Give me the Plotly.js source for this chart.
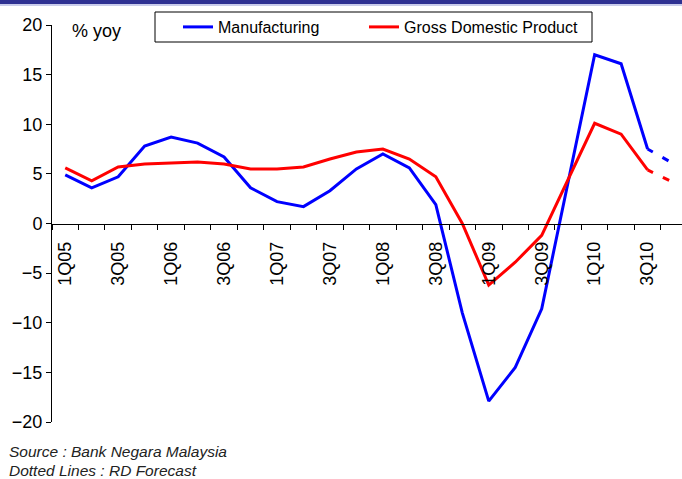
<!DOCTYPE html>
<html><head><meta charset="utf-8">
<script src="https://cdn.plot.ly/plotly-3.0.1.min.js"></script>
<style>html,body{margin:0;padding:0;background:#fff;}#chart{width:682px;height:479px;}</style>
</head><body><div id="chart"></div>
<script>
const quarters = ['1Q05','2Q05','3Q05','4Q05','1Q06','2Q06','3Q06','4Q06','1Q07','2Q07','3Q07','4Q07',
                  '1Q08','2Q08','3Q08','4Q08','1Q09','2Q09','3Q09','4Q09','1Q10','2Q10','3Q10','4Q10'];
const manufacturing = [4.9,3.6,4.7,7.8,8.7,8.1,6.7,3.6,2.2,1.7,3.3,5.5,7.0,5.6,1.9,-9.0,-17.9,-14.5,-8.6,4.3,17.0,16.1,7.5];
const gdp = [5.6,4.3,5.7,6.0,6.1,6.2,6.0,5.5,5.5,5.7,6.5,7.2,7.5,6.5,4.7,0.0,-6.2,-3.9,-1.2,4.5,10.1,9.0,5.4];
const manufacturingForecast = [7.5,6.0];   // 3Q10 -> 4Q10
const gdpForecast = [5.4,4.1];             // 3Q10 -> 4Q10
const yTicks = [-20,-15,-10,-5,0,5,10,15,20];

const idx = quarters.map((q,i)=>i);
const actualX = idx.slice(0, manufacturing.length);
const fcX = idx.slice(manufacturing.length-1);
const labelIdx = idx.filter(i=>i%2===0);

const font = 'Liberation Sans, Arial, sans-serif';
const W = 630, H = 397, L = 52, T = 25;
const px = v => (v - L) / W;           // pixel x -> paper
const py = v => (T + H - v) / H;       // pixel y -> paper

const traces = [
  {x: actualX, y: manufacturing, name:'Manufacturing', mode:'lines', line:{color:'#0000FF', width:3}, legend:'legend'},
  {x: actualX, y: gdp, name:'Gross Domestic Product', mode:'lines', line:{color:'#FF0000', width:3}, legend:'legend2'},
  {x: fcX, y: manufacturingForecast, mode:'lines', showlegend:false, line:{color:'#0000FF', width:3, dash:'6px,11px,7px,30px'}},
  {x: fcX, y: gdpForecast, mode:'lines', showlegend:false, line:{color:'#FF0000', width:3, dash:'6px,11px,7px,30px'}}
];
const legendBase = {orientation:'h', xanchor:'left', y:py(27), yanchor:'middle',
          borderwidth:0, bgcolor:'rgba(0,0,0,0)', font:{size:16, family:font}};
const layout = {
  width:682, height:479,
  margin:{l:L, r:0, t:T, b:57},
  paper_bgcolor:'#fff', plot_bgcolor:'rgba(0,0,0,0)',
  font:{family:font, color:'#000'},
  showlegend:true,
  legend:Object.assign({x:px(178)}, legendBase),
  legend2:Object.assign({x:px(364)}, legendBase),
  xaxis:{range:[-0.5,23.3], anchor:'free', position:0.5, showgrid:false, zeroline:false,
         showline:true, linecolor:'#000', linewidth:1,
         tickmode:'array', tickvals:labelIdx, ticktext:labelIdx.map(i=>quarters[i]),
         ticks:'', tickangle:-90, ticklabelstandoff:10, tickfont:{size:18, family:font, color:'#000'},
         minor:{tickmode:'array', tickvals:idx.map(i=>i-0.5).concat([23.5]), ticks:'outside', ticklen:5, tickcolor:'#000', showgrid:false}},
  yaxis:{range:[-20,20], tickmode:'array', tickvals:yTicks, showgrid:false, zeroline:false,
         showline:true, linecolor:'#000', linewidth:1, ticks:'outside', ticklen:5, tickcolor:'#000',
         tickfont:{size:18, family:font, color:'#000'}},
  annotations:[
    {text:'% yoy', xref:'paper', yref:'paper', x:px(70), y:py(31), xanchor:'left', yanchor:'middle', showarrow:false, font:{size:18, family:font}},
    {text:'<i>Source : Bank Negara Malaysia</i>', xref:'paper', yref:'paper', x:px(7), y:py(451), xanchor:'left', yanchor:'middle', showarrow:false, font:{size:15.5, family:font, color:'#222'}},
    {text:'<i>Dotted Lines : RD Forecast</i>', xref:'paper', yref:'paper', x:px(7), y:py(470), xanchor:'left', yanchor:'middle', showarrow:false, font:{size:15.5, family:font, color:'#222'}}
  ],
  shapes:[
    {type:'rect', xref:'paper', yref:'paper', x0:px(155), x1:px(592), y0:py(42), y1:py(12), fillcolor:'#fff', line:{color:'#000', width:1}, layer:'above'},
    {type:'rect', xref:'paper', yref:'paper', x0:-0.1, x1:1.05, y0:py(4), y1:py(-2), fillcolor:'#2E3192', line:{width:0}, layer:'above'},
    {type:'rect', xref:'paper', yref:'paper', x0:-0.1, x1:1.05, y0:py(6), y1:py(4), fillcolor:'#C9CCEB', line:{width:0}, layer:'above'}
  ]
};
Plotly.newPlot('chart', traces, layout, {displayModeBar:false, staticPlot:true});
</script></body></html>
